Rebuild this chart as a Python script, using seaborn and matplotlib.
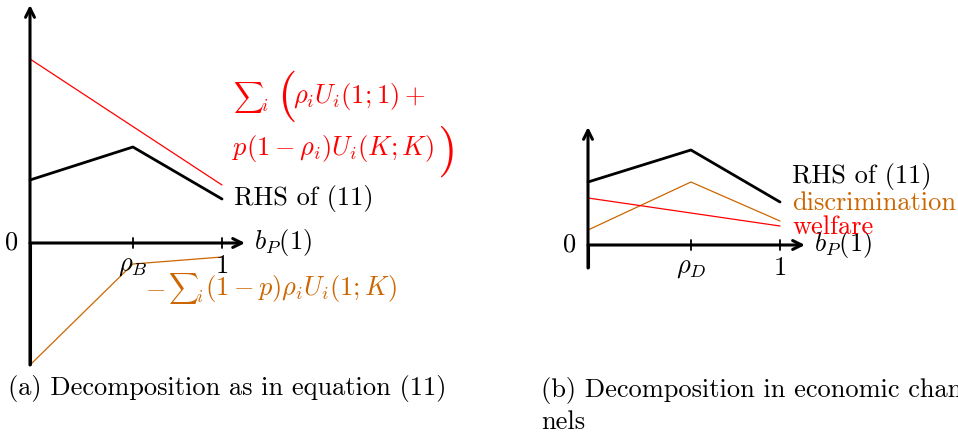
import matplotlib
matplotlib.use("Agg")
import matplotlib.pyplot as plt
import seaborn as sns
import pandas as pd

# values (x in units of b_P(1), y arbitrary)
x_kink = [0.0, 0.536, 1.0]
x_ends = [0.0, 1.0]

a_rhs = [0.63, 0.96, 0.44]
a_welfare = [1.84, 0.58]
a_discr = [-1.22, -0.21, -0.14]

b_rhs = [0.63, 0.95, 0.43]
b_discr = [0.15, 0.63, 0.24]
b_welfare = [0.47, 0.19]

RED = "#ff0000"
ORANGE = "#cc6600"

sns.set_style("white")
plt.rcParams["font.family"] = "serif"
plt.rcParams["font.serif"] = ["cmr10", "DejaVu Serif"]
plt.rcParams["mathtext.fontset"] = "cm"
plt.rcParams["axes.unicode_minus"] = False
plt.rcParams["text.color"] = "black"

W, H = 958, 437
fig = plt.figure(figsize=(W / 100, H / 100), dpi=100)


def px(x, y):
    return x / W, 1 - y / H


def make_axes(left, right, x0, y0):
    # axes covering pixel columns left..right, 192 px per x unit, 100 px per y unit
    ax = fig.add_axes([left / W, 0, (right - left) / W, 1])
    ax.set_xlim(-(x0 - left) / 192, (right - x0) / 192)
    ax.set_ylim(-(H - y0) / 100, y0 / 100)
    ax.axis("off")
    return ax


def arrows(ax, xend, ybot, ytop, ticks):
    ap = dict(arrowstyle="->", lw=2.2, color="black", mutation_scale=16, shrinkA=0, shrinkB=0)
    ax.annotate("", xy=(xend, 0), xytext=(0, 0), arrowprops=ap)
    ax.annotate("", xy=(0, ytop), xytext=(0, ybot), arrowprops=ap)
    ax.plot([0, 0], [ybot, 0], color="black", lw=2.2, solid_capstyle="butt")
    for t in ticks:
        ax.plot([t, t], [-0.05, 0.05], color="black", lw=1.3)


# panel (a)
ax1 = make_axes(0, 480, 30, 243)
df_a = pd.DataFrame({"x": x_kink, "rhs": a_rhs, "discr": a_discr})
sns.lineplot(data=df_a, x="x", y="rhs", color="black", lw=2, ax=ax1)
sns.lineplot(data=df_a, x="x", y="discr", color=ORANGE, lw=0.9, ax=ax1)
sns.lineplot(x=x_ends, y=a_welfare, color=RED, lw=0.9, ax=ax1)
arrows(ax1, 1.12, -1.22, 2.38, x_kink[1:])
ax1.axis("off")

# panel (b)
ax2 = make_axes(480, 958, 588, 245)
df_b = pd.DataFrame({"x": x_kink, "rhs": b_rhs, "discr": b_discr})
sns.lineplot(data=df_b, x="x", y="rhs", color="black", lw=2, ax=ax2)
sns.lineplot(data=df_b, x="x", y="discr", color=ORANGE, lw=0.9, ax=ax2)
sns.lineplot(x=x_ends, y=b_welfare, color=RED, lw=0.9, ax=ax2)
arrows(ax2, 1.13, -0.23, 1.18, x_kink[1:])
ax2.axis("off")

fs = 19
fsum = 15
# labels panel (a)
fig.text(*px(12, 243), "0", fontsize=fs, ha="center", va="center")
fig.text(*px(254, 243), r"$b_P(1)$", fontsize=fs, ha="left", va="center")
fig.text(*px(133, 266), r"$\rho_B$", fontsize=fs, ha="center", va="center")
fig.text(*px(222, 266), "1", fontsize=fs, ha="center", va="center")
fig.text(*px(234, 198), "RHS of (11)", fontsize=fs, ha="left", va="center")
fig.text(*px(233, 97), r"$\sum$", fontsize=fsum, ha="left", va="center", color=RED)
fig.text(*px(261, 106), r"$i$", fontsize=13, ha="left", va="center", color=RED)
fig.text(*px(277, 96), "(", fontsize=36, ha="left", va="center", color=RED)
fig.text(*px(293, 97), r"$\rho_iU_i(1;1)+$", fontsize=fs, ha="left", va="center", color=RED)
fig.text(*px(232, 148), r"$p(1-\rho_i)U_i(K;K)$", fontsize=fs, ha="left", va="center", color=RED)
fig.text(*px(437, 151), ")", fontsize=36, ha="left", va="center", color=RED)
fig.text(*px(145, 288), r"$-$", fontsize=fs, ha="left", va="center", color=ORANGE)
fig.text(*px(168, 288), r"$\sum$", fontsize=fsum, ha="left", va="center", color=ORANGE)
fig.text(*px(196, 297), r"$i$", fontsize=13, ha="left", va="center", color=ORANGE)
fig.text(*px(205, 288), r"$(1-p)\rho_iU_i(1;K)$", fontsize=fs, ha="left", va="center", color=ORANGE)
fig.text(*px(8, 388), "(a) Decomposition as in equation (11)", fontsize=fs, ha="left", va="center")

# labels panel (b)
fig.text(*px(570, 245), "0", fontsize=fs, ha="center", va="center")
fig.text(*px(814, 245), r"$b_P(1)$", fontsize=fs, ha="left", va="center")
fig.text(*px(691, 268), r"$\rho_D$", fontsize=fs, ha="center", va="center")
fig.text(*px(780, 268), "1", fontsize=fs, ha="center", va="center")
fig.text(*px(792, 177), "RHS of (11)", fontsize=fs, ha="left", va="center")
fig.text(*px(792, 203), "discrimination", fontsize=fs, ha="left", va="center", color=ORANGE)
fig.text(*px(792, 227), "welfare", fontsize=fs, ha="left", va="center", color=RED)
fig.text(*px(541, 390), "(b) Decomposition in economic chan", fontsize=fs, ha="left", va="center")
fig.text(*px(541, 422), "nels", fontsize=fs, ha="left", va="center")

fig.savefig("out.png", dpi=100)
